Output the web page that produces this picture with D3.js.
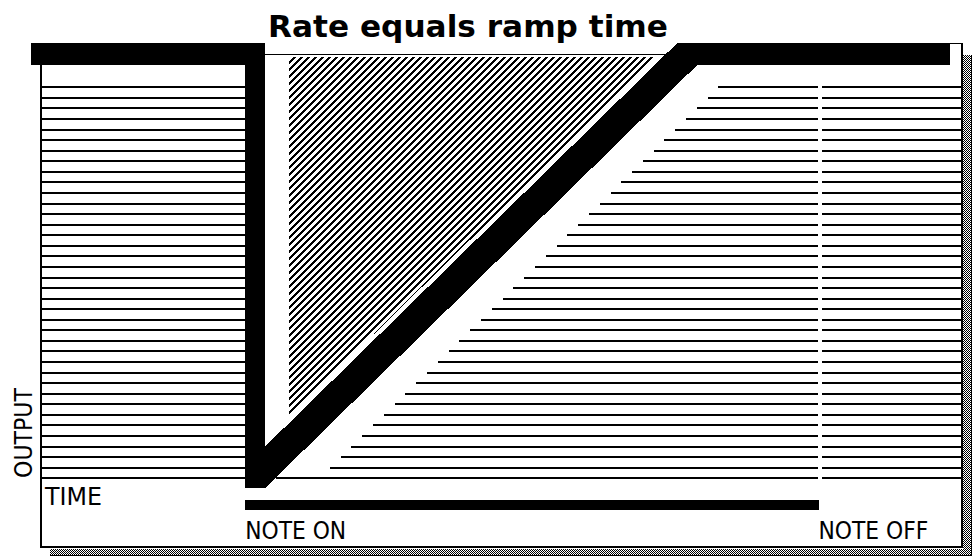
<!DOCTYPE html>
<html><head><meta charset="utf-8">
<script src="https://cdn.jsdelivr.net/npm/d3@7"></script>
<style>html,body{margin:0;padding:0;background:#fff;} svg{display:block}</style>
</head><body>
<script>
// ---------- data ----------
const title = "Rate equals ramp time";
const axisLabels = ["OUTPUT", "TIME"];
const markerLabels = ["NOTE ON", "NOTE OFF"];
// envelope: time (% of width) and output level (0..1)
const envTime  = [0, 23.8, 23.8, 71.8, 99.9];
const envLevel = [1, 1, 0, 1, 1];
const noteOnTime = 23.8;
const noteOffTime = 86.6;
const fillLineCount = 38;

// ---------- layout ----------
const W = 975, H = 556;
const x = d3.scaleLinear().domain([0, 100]).range([41, 941]);
const y = d3.scaleLinear().domain([0, 1]).range([477, 54]);
const penA = 10, penB = 11; // rectangular pen half-size

const svg = d3.select("body").append("svg").attr("width", W).attr("height", H)
  .attr("shape-rendering", "crispEdges");
const defs = svg.append("defs");
const chk = defs.append("pattern").attr("id", "chk").attr("width", 2).attr("height", 2)
  .attr("patternUnits", "userSpaceOnUse");
chk.append("rect").attr("width", 2).attr("height", 2).attr("fill", "#fff");
chk.append("rect").attr("width", 1).attr("height", 1).attr("fill", "#000");
chk.append("rect").attr("x", 1).attr("y", 1).attr("width", 1).attr("height", 1).attr("fill", "#000");

// diagonal hatch pattern, pixel staircase
const hp = 7;
const hatch = defs.append("pattern").attr("id", "hatch").attr("width", hp).attr("height", hp)
  .attr("patternUnits", "userSpaceOnUse");
hatch.append("rect").attr("width", hp).attr("height", hp).attr("fill", "#fff");
d3.range(hp).forEach(r => {
  d3.range(hp).forEach(c => {
    if ((c + r) % hp < 3) hatch.append("rect").attr("x", c).attr("y", r).attr("width", 1).attr("height", 1).attr("fill", "#000");
  });
});

const xOn = x(noteOnTime), xOff = x(noteOffTime);
const xRamp = x(envTime[3]);
const yTop = y(1), yBot = y(0);
const slope = (xRamp - xOn) / (yBot - yTop); // dx per dy along ramp
const upperEdge = yy => (xOn - penA) + (yBot - penB - yy) * slope;
const lowerEdge = yy => (xOn + penA) + (yBot + penB - yy) * slope;

// ---------- shadow ----------
svg.append("rect").attr("x", 963).attr("y", 55).attr("width", 9).attr("height", 501).attr("fill", "url(#chk)");
svg.append("rect").attr("x", 50).attr("y", 549).attr("width", 922).attr("height", 7).attr("fill", "url(#chk)");
svg.append("rect").attr("x", 971).attr("y", 55).attr("width", 1).attr("height", 501).attr("fill", "#000");
svg.append("rect").attr("x", 50).attr("y", 555).attr("width", 922).attr("height", 1).attr("fill", "#000");

// ---------- frame ----------
svg.append("rect").attr("x", 40).attr("y", yTop + penB).attr("width", 2).attr("height", 548 - yTop - penB).attr("fill", "#000");
svg.append("rect").attr("x", 40).attr("y", 546).attr("width", 923).attr("height", 2).attr("fill", "#000");
svg.append("rect").attr("x", 961).attr("y", yTop - penB).attr("width", 2).attr("height", 548 - yTop + penB).attr("fill", "#000");
svg.append("rect").attr("x", x(envTime[4]) + penA - 1).attr("y", yTop - penB).attr("width", 963 - x(envTime[4]) - penA + 1).attr("height", 1).attr("fill", "#000");
svg.append("rect").attr("x", xOn).attr("y", yTop).attr("width", xRamp - xOn).attr("height", 1).attr("fill", "#000");

// ---------- horizontal fill lines ----------
const lineY = d3.range(fillLineCount).map(i => 87.3 + i * (478.3 - 87.3) / (fillLineCount - 1));
const g = svg.append("g").attr("fill", "#000");
lineY.forEach((ly, i) => {
  const yy = Math.round(ly - 1);
  g.append("rect").attr("x", 42).attr("y", yy).attr("width", xOn - penA - 42).attr("height", 2);
  const sx = Math.round(i === fillLineCount - 1 ? lowerEdge(ly) + 1 : lowerEdge(ly) + 44);
  g.append("rect").attr("x", sx).attr("y", yy).attr("width", Math.max(0, Math.round(xOff - 2) - sx)).attr("height", 2);
  g.append("rect").attr("x", Math.round(xOff + 2)).attr("y", yy).attr("width", 961 - Math.round(xOff + 2)).attr("height", 2);
});

// ---------- hatched triangle ----------
const hx0 = Math.round(xOn + 34), hy0 = Math.round(yTop + 3);
const gap = 6;
const hyp = yy => upperEdge(yy) - gap;
const hyBottom = yBot - penB - (hx0 + gap - (xOn - penA)) / slope;
const tri = [[hx0, hy0], [hyp(hy0), hy0], [hx0, hyBottom]];
svg.append("path").attr("d", "M" + tri.join("L") + "Z").attr("fill", "url(#hatch)");

// ---------- envelope drawn with a rectangular pen ----------
const pts = envTime.map((t, i) => [x(t), y(envLevel[i])]);
const eg = svg.append("g").attr("fill", "#000");
for (let i = 0; i < pts.length - 1; i++) {
  const [p, q] = [pts[i], pts[i + 1]];
  const corners = [];
  [p, q].forEach(c => {
    corners.push([c[0] - penA, c[1] - penB], [c[0] + penA, c[1] - penB],
                 [c[0] + penA, c[1] + penB], [c[0] - penA, c[1] + penB]);
  });
  const hull = d3.polygonHull(corners);
  eg.append("path").attr("d", "M" + hull.join("L") + "Z");
}

// ---------- note on bar ----------
svg.append("rect").attr("x", xOn - penA).attr("y", 500).attr("width", xOff - 1 - (xOn - penA)).attr("height", 10).attr("fill", "#000");

// ---------- text ----------
const font = "'DejaVu Sans', sans-serif";
svg.append("text").attr("x", 268).attr("y", 37).attr("font-family", font).attr("font-weight", "bold")
  .attr("font-size", 30).attr("textLength", 400).attr("lengthAdjust", "spacingAndGlyphs").text(title);
svg.append("text").attr("transform", "translate(32,478) rotate(-90)").attr("font-family", font)
  .attr("font-size", 24).attr("textLength", 90).attr("lengthAdjust", "spacingAndGlyphs").text(axisLabels[0]);
svg.append("text").attr("x", 45).attr("y", 505).attr("font-family", font)
  .attr("font-size", 24).attr("textLength", 57).attr("lengthAdjust", "spacingAndGlyphs").text(axisLabels[1]);
svg.append("text").attr("x", xOn - penA).attr("y", 539).attr("font-family", font)
  .attr("font-size", 24).attr("textLength", 101).attr("lengthAdjust", "spacingAndGlyphs").text(markerLabels[0]);
svg.append("text").attr("x", xOff - 2).attr("y", 539).attr("font-family", font)
  .attr("font-size", 24).attr("textLength", 110).attr("lengthAdjust", "spacingAndGlyphs").text(markerLabels[1]);
</script>
</body></html>
